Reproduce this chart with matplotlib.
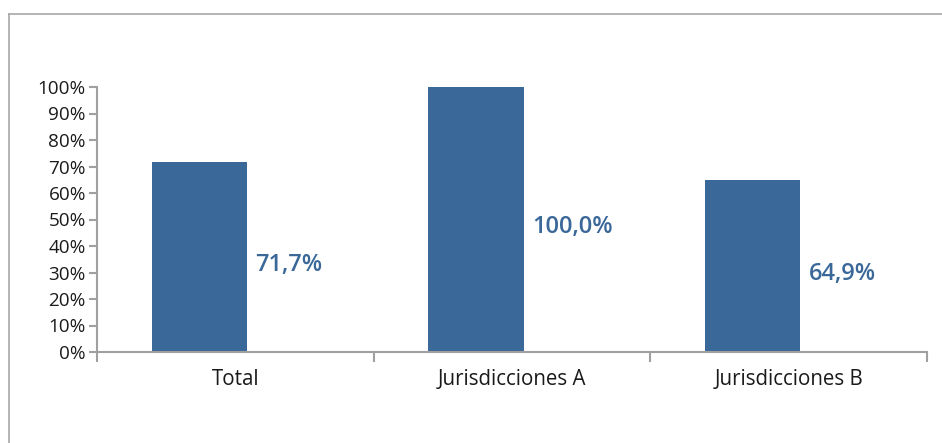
import matplotlib.pyplot as plt
from matplotlib.lines import Line2D
from matplotlib.ticker import FixedLocator, PercentFormatter

# data
categories = ['Total', 'Jurisdicciones A', 'Jurisdicciones B']
values = [71.7, 100.0, 64.9]
value_labels = ['71,7%', '100,0%', '64,9%']

bar_color = '#3a6899'
axis_color = '#a0a0a0'

plt.rcParams['font.family'] = ['Open Sans', 'DejaVu Sans']

fig = plt.figure(figsize=(9.42, 4.43), dpi=100)
ax = fig.add_axes([97 / 942, 91 / 443, 830 / 942, 265 / 443])

x = list(range(len(categories)))
bar_w = 0.345
offset = -0.13
bars = ax.bar([i + offset for i in x], values, width=bar_w, color=bar_color)

# value labels to the right of each bar
for b, v, lab in zip(bars, values, value_labels):
    ax.annotate(lab, (b.get_x() + b.get_width(), v / 2 - 3),
                xytext=(6, 0), textcoords='offset points',
                ha='left', va='center', fontsize=17, fontweight='semibold',
                color=bar_color)

ax.set_xlim(-0.5, len(categories) - 0.5)
ax.set_ylim(0, 100)
ax.set_yticks(range(0, 101, 10))
ax.yaxis.set_major_formatter(PercentFormatter(decimals=0))
ax.set_xticks(x)
ax.set_xticklabels(categories)
ax.xaxis.set_minor_locator(FixedLocator([i - 0.5 for i in range(len(categories) + 1)]))

ax.tick_params(axis='x', which='major', length=0, labelsize=14.8, pad=12, labelcolor='#1a1a1a')
ax.tick_params(axis='x', which='minor', length=7, color=axis_color, width=1.5)
ax.tick_params(axis='y', length=6, color=axis_color, width=1.5, labelsize=13.6,
               labelcolor='#1a1a1a', pad=2)

for s in ['top', 'right']:
    ax.spines[s].set_visible(False)
for s in ['left', 'bottom']:
    ax.spines[s].set_color(axis_color)
    ax.spines[s].set_linewidth(1.5)

# outer frame (top and left edges visible)
fig.add_artist(Line2D([8.5 / 942, 8.5 / 942], [0, 429 / 443], color='#a8a8a8', lw=1.2))
fig.add_artist(Line2D([8.5 / 942, 1], [429 / 443, 429 / 443], color='#a8a8a8', lw=1.2))

fig.savefig('out.png', dpi=100)
